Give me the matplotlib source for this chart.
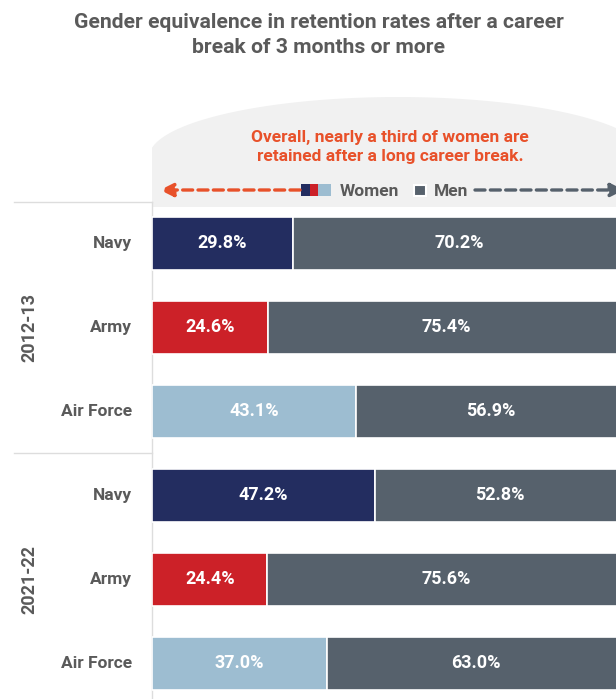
import numpy as np
import matplotlib.pyplot as plt
from matplotlib.patches import Polygon, Rectangle

# data
periods = ['2012-13', '2021-22']
services = ['Navy', 'Army', 'Air Force']
women_2012 = [29.8, 24.6, 43.1]
women_2021 = [47.2, 24.4, 37.0]
men_2012 = [70.2, 75.4, 56.9]
men_2021 = [52.8, 75.6, 63.0]

navy = '#232d60'
red = '#cc2128'
light_blue = '#9dbdd1'
men_col = '#56616c'
orange = '#e8512a'
text_grey = '#5a5a5a'
service_cols = [navy, red, light_blue]

plt.rcParams['font.family'] = ['Roboto', 'DejaVu Sans']

W, H = 616, 699
fig = plt.figure(figsize=(W / 100, H / 100), dpi=100)

# overlay in pixel coordinates for the decorations
bg = fig.add_axes([0, 0, 1, 1])
bg.set_xlim(0, W)
bg.set_ylim(H, 0)
bg.axis('off')

# grey panel with rounded top
xs = np.linspace(152, W, 200)
a, b, x0, cy = 249, 60, 398, 157
top = cy - b * np.sqrt(np.clip(1 - ((xs - x0) / a) ** 2, 0, 1))
pts = np.column_stack([xs, top]).tolist() + [[W, 207], [152, 207]]
bg.add_patch(Polygon(pts, closed=True, facecolor='#f1f1f1', edgecolor='none'))

bg.text(319, 35, 'Gender equivalence in retention rates after a career\nbreak of 3 months or more',
        ha='center', va='center', fontsize=15.2, fontweight='bold', color=text_grey,
        linespacing=1.4)
bg.text(390, 147, 'Overall, nearly a third of women are\nretained after a long career break.',
        ha='center', va='center', fontsize=12.5, fontweight='bold', color=orange,
        linespacing=1.4)

# legend row
ly = 190
bg.annotate('', xy=(160, ly), xytext=(300, ly), annotation_clip=False,
            arrowprops=dict(arrowstyle='-|>', color=orange, lw=2.4, linestyle=(0, (3, 1.6)),
                            mutation_scale=20, shrinkA=0, shrinkB=0))
for x, wd, c in zip([301, 310, 318], [9, 8, 13], service_cols):
    bg.add_patch(Rectangle((x, 184), wd, 12, facecolor=c, edgecolor='none'))
bg.text(340, ly + 1, 'Women', ha='left', va='center', fontsize=12.5, fontweight='bold', color=text_grey)
bg.add_patch(Rectangle((414, 185), 12, 11, facecolor=men_col, edgecolor='white', lw=1.5))
bg.text(434, ly + 1, 'Men', ha='left', va='center', fontsize=12.5, fontweight='bold', color=text_grey)
bg.annotate('', xy=(624, ly), xytext=(475, ly), annotation_clip=False,
            arrowprops=dict(arrowstyle='-|>', color=men_col, lw=2.4, linestyle=(0, (3, 1.6)),
                            mutation_scale=20, shrinkA=0, shrinkB=0))

# group frame lines
bg.plot([14, 152], [202, 202], color='#dddddd', lw=1)
bg.plot([14, 152], [453, 453], color='#dddddd', lw=1)
bg.plot([152, 152], [202, H], color='#dddddd', lw=1)

# bar axes: 100% sits just beyond the right edge
ax = fig.add_axes([152 / W, (H - 705.5) / H, 473 / W, 504 / H])
ax.set_xlim(0, 100)
ax.set_ylim(5.5, -0.5)
ax.axis('off')

women = women_2012 + women_2021
men = men_2012 + men_2021
cols = service_cols * 2
pos = np.arange(len(women))
ax.barh(pos, women, height=0.63, color=cols, edgecolor='white', lw=1.2)
ax.barh(pos, men, left=women, height=0.63, color=men_col, edgecolor='white', lw=1.2)
for p, w, m in zip(pos, women, men):
    ax.text(w / 2, p, f'{w:.1f}%', ha='center', va='center', color='white',
            fontsize=13, fontweight='bold')
    ax.text(w + m / 2, p, f'{m:.1f}%', ha='center', va='center', color='white',
            fontsize=13, fontweight='bold')

# category and group labels
row_px = [243.5 + 84 * i for i in range(6)]
for i, y in enumerate(row_px):
    bg.text(132, y, services[i % 3], ha='right', va='center', fontsize=12.5,
            fontweight='bold', color=text_grey)
for g, per in enumerate(periods):
    yc = np.mean(row_px[g * 3:g * 3 + 3])
    bg.text(29, yc, per, ha='center', va='center', rotation=90, fontsize=13,
            fontweight='bold', color=text_grey)

fig.savefig('out.png', dpi=100)
